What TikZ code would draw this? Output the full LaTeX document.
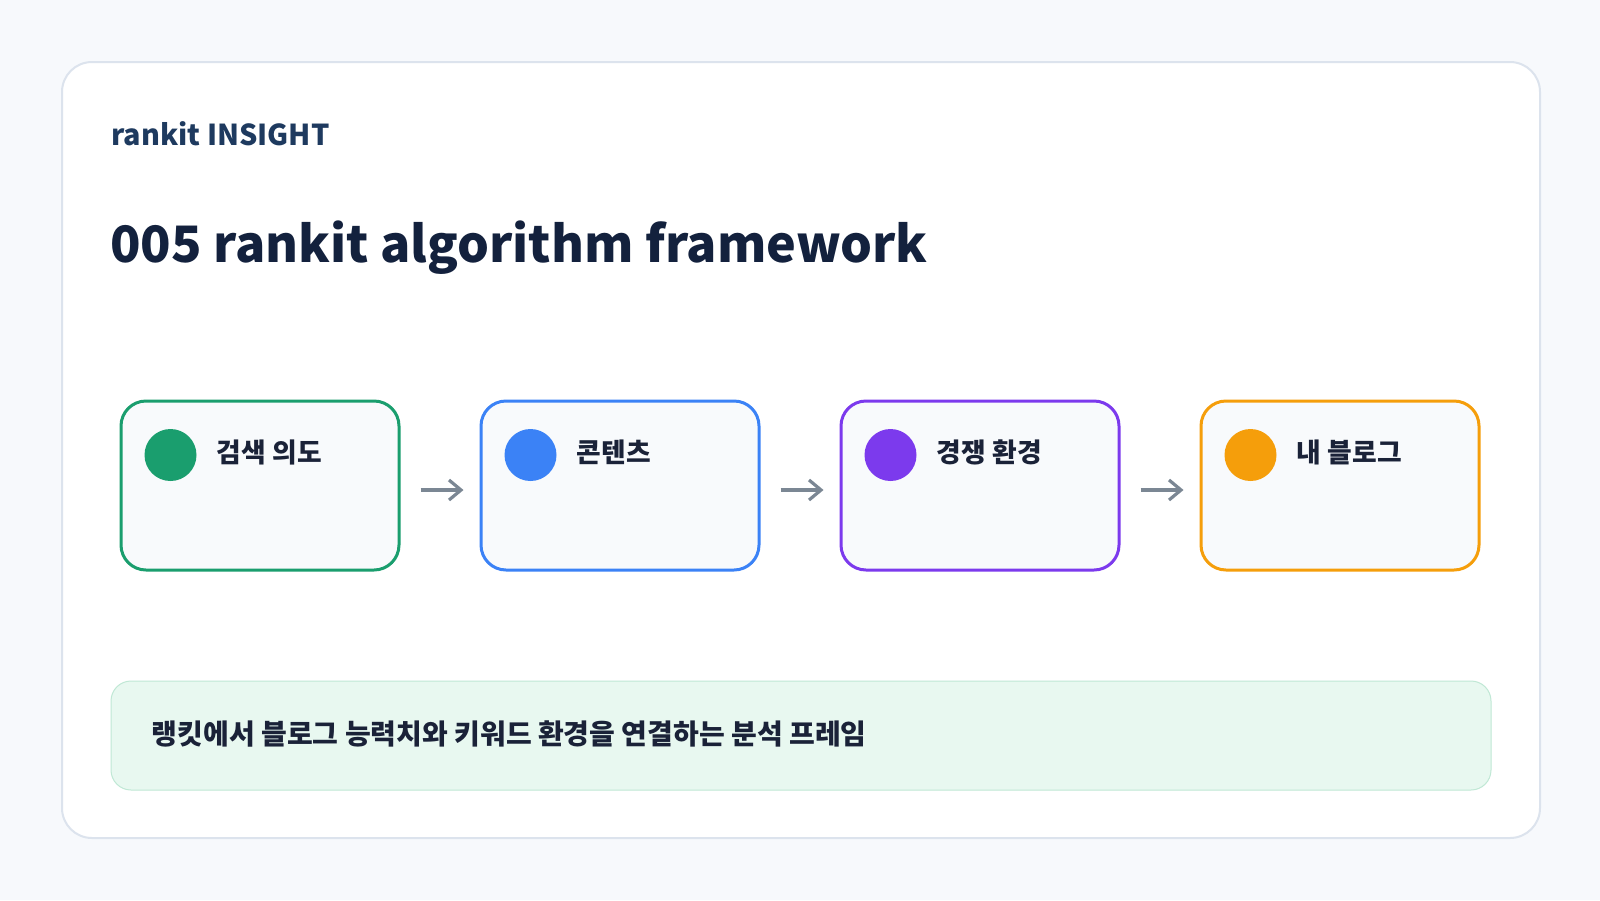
\documentclass[tikz,border=0pt]{standalone}
\usepackage{fontspec}
\setmainfont{Noto Sans CJK KR}
\usetikzlibrary{arrows.meta,calc}
\definecolor{bgc}{HTML}{F7F9FC}
\definecolor{cardline}{HTML}{DCE3ED}
\definecolor{navy}{HTML}{1E3A5F}
\definecolor{titlec}{HTML}{13213D}
\definecolor{textc}{HTML}{1A2238}
\definecolor{cgreen}{HTML}{1A9E6E}
\definecolor{cblue}{HTML}{3B82F6}
\definecolor{cpurple}{HTML}{7C3AED}
\definecolor{corange}{HTML}{F59E0B}
\definecolor{boxfill}{HTML}{F8FAFC}
\definecolor{arrowc}{HTML}{7B8794}
\definecolor{panelfill}{HTML}{E8F8F0}
\definecolor{panelline}{HTML}{C0E8D5}
\tikzset{
  stepbox/.style={draw, fill=boxfill, line width=1.5pt, rounded corners=12.5pt,
    minimum width=139pt, minimum height=84.5pt, inner sep=0pt},
  dotc/.style={circle, minimum size=26pt, inner sep=0pt},
  lbl/.style={anchor=base west, inner sep=0pt, font=\fontsize{13.4}{15}\selectfont\bfseries, text=textc},
  arr/.style={draw=arrowc, line width=1.6pt, -{Straight Barb[length=6pt,width=10pt]}},
}
\begin{document}
\begin{tikzpicture}[x=0.5pt,y=-0.5pt]
\useasboundingbox (0,0) rectangle (1600,900);
\fill[bgc] (0,0) rectangle (1600,900);
\draw[cardline, fill=white, line width=1pt, rounded corners=15pt] (62,62) rectangle (1540,838);
\node[anchor=base west, inner sep=0pt, text=navy, font=\fontsize{14.4}{17}\selectfont\bfseries] (kicker) at (111,145) {rankit INSIGHT};
\node[anchor=base west, inner sep=0pt, text=titlec, font=\fontsize{25.1}{30}\selectfont\bfseries] (title) at (110,262) {005 rankit algorithm framework};
% boxes
\node[stepbox, draw=cgreen] (b1) at (260,485.5) {};
\node[stepbox, draw=cblue] (b2) at (620,485.5) {};
\node[stepbox, draw=cpurple] (b3) at (980,485.5) {};
\node[stepbox, draw=corange] (b4) at (1340,485.5) {};
\node[dotc, fill=cgreen] (d1) at ($(b1.west)+(51,-30.5)$) {};
\node[dotc, fill=cblue] (d2) at ($(b2.west)+(51,-30.5)$) {};
\node[dotc, fill=cpurple] (d3) at ($(b3.west)+(51,-30.5)$) {};
\node[dotc, fill=corange] (d4) at ($(b4.west)+(51,-30.5)$) {};
\node[lbl] (t1) at ($(b1.west)+(97,-23)$) {검색 의도};
\node[lbl] (t2) at ($(b2.west)+(97,-23)$) {콘텐츠};
\node[lbl] (t3) at ($(b3.west)+(97,-23)$) {경쟁 환경};
\node[lbl] (t4) at ($(b4.west)+(97,-23)$) {내 블로그};
% arrows
\coordinate (a1s) at ($(b1.east)+(20,4.5)$);
\coordinate (a1e) at ($(b2.west)+(-16,4.5)$);
\coordinate (a2s) at ($(b2.east)+(20,4.5)$);
\coordinate (a2e) at ($(b3.west)+(-16,4.5)$);
\coordinate (a3s) at ($(b3.east)+(20,4.5)$);
\coordinate (a3e) at ($(b4.west)+(-16,4.5)$);
\draw[arr] (a1s) -- (a1e);
\draw[arr] (a2s) -- (a2e);
\draw[arr] (a3s) -- (a3e);
% bottom panel
\node[draw=panelline, fill=panelfill, line width=0.5pt, rounded corners=10pt,
  minimum width=690pt, minimum height=54.5pt, inner sep=0pt] (panel) at (801,735.5) {};
\node[lbl, font=\fontsize{14}{16}\selectfont\bfseries] (ptxt) at ($(panel.west)+(41,8.5)$) {랭킷에서 블로그 능력치와 키워드 환경을 연결하는 분석 프레임};
\end{tikzpicture}
\end{document}
